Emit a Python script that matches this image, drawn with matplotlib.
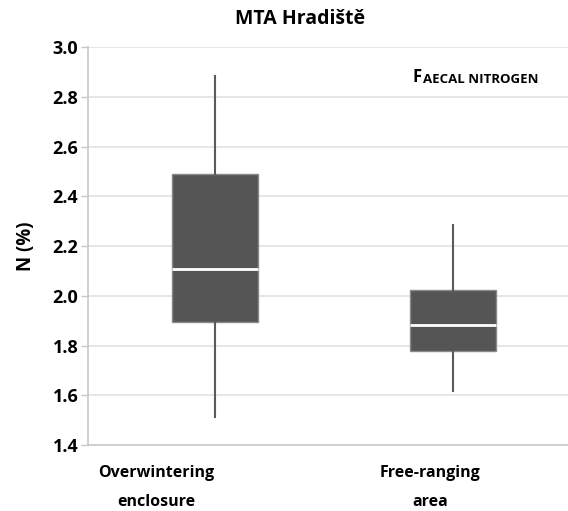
import matplotlib.pyplot as plt

plt.rcParams['font.family'] = ['Open Sans', 'DejaVu Sans']

# box statistics
groups = ['Overwintering\nenclosure', 'Free-ranging\narea']
whislo = [1.513, 1.618]
q1 = [1.895, 1.778]
med = [2.108, 1.881]
q3 = [2.489, 2.022]
whishi = [2.883, 2.284]
yticks = [1.4, 1.6, 1.8, 2.0, 2.2, 2.4, 2.6, 2.8, 3.0]

stats = []
for i in range(len(groups)):
    stats.append({'whislo': whislo[i], 'q1': q1[i], 'med': med[i],
                  'q3': q3[i], 'whishi': whishi[i], 'fliers': []})

fig = plt.figure(figsize=(5.68, 5.11), dpi=100)
ax = fig.add_axes([0.155, 0.129, 0.845, 0.779])

ax.bxp(stats, positions=[1, 2], widths=0.36, patch_artist=True,
       showcaps=False, showfliers=False,
       boxprops=dict(facecolor='#555555', edgecolor='#8a8a8a', linewidth=1),
       medianprops=dict(color='white', linewidth=2),
       whiskerprops=dict(color='#5a5a5a', linewidth=1.5))

ax.set_xlim(0.466, 2.483)
ax.set_ylim(1.4, 3.0)
ax.set_yticks(yticks)
ax.set_yticklabels(['%.1f' % t for t in yticks], fontsize=13, fontweight='bold')
ax.yaxis.grid(True, color='#e2e2e2', linewidth=1.2)
ax.set_axisbelow(True)
ax.tick_params(axis='y', length=5, width=1, color='#c8c8c8', pad=2)

# category labels sit a little left of the boxes
ax.set_xticks([0.751, 1.903])
ax.set_xticklabels(groups, fontsize=11.5, fontweight='bold', linespacing=2.1)
ax.tick_params(axis='x', length=0, pad=14)

for s in ['top', 'right']:
    ax.spines[s].set_visible(False)
for s in ['left', 'bottom']:
    ax.spines[s].set_color('#c8c8c8')
    ax.spines[s].set_linewidth(1.2)

ax.set_ylabel('N (%)', fontsize=13.5, fontweight='bold', labelpad=12)

fig.text(0.528, 0.962, 'MTA Hradiště', ha='center', va='center',
         fontsize=14, fontweight='bold')

# small caps label
t = ax.text(0.677, 0.912, 'F', transform=ax.transAxes, fontsize=12,
            fontweight='bold', ha='left', va='baseline')
ax.annotate('AECAL NITROGEN', xy=(1, 0), xycoords=t, xytext=(0.5, 0),
            textcoords='offset points', fontsize=9.5, fontweight='bold',
            ha='left', va='bottom')

fig.savefig('out.png', dpi=100)
